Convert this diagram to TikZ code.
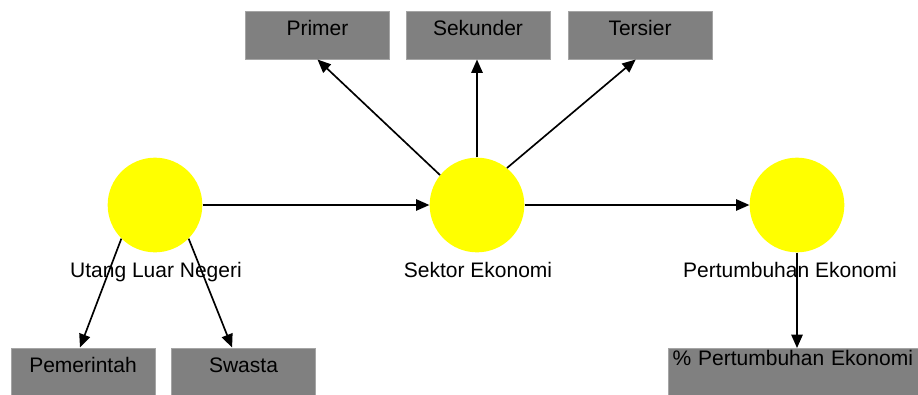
\documentclass[tikz,border=0pt]{standalone}
\usepackage{fontspec}
\setmainfont{Liberation Sans}
\usetikzlibrary{arrows.meta}
\definecolor{sunyellow}{RGB}{255,255,0}
\definecolor{boxgray}{RGB}{128,128,128}
\definecolor{edgegray}{RGB}{165,165,165}

\begin{document}
\begin{tikzpicture}[
  x=0.75pt, y=-0.75pt,
  sun/.style={circle, fill=sunyellow, minimum size=71pt, inner sep=0pt},
  caption/.style={inner sep=0pt, text height=12pt, text depth=3.5pt, font=\fontsize{15.75}{18}\selectfont},
  box/.style={draw=edgegray, fill=boxgray, line width=0.75pt, minimum width=108pt, minimum height=36pt, inner sep=0pt, text height=12pt, text depth=12pt, font=\fontsize{15.75}{18}\selectfont},
  arrow/.style={-{Triangle[length=10pt,width=8.5pt]}, line width=1.25pt}
]
  \useasboundingbox (0,0) rectangle (918,394);
  \clip (0,0) rectangle (918,394);

  % Circles
  \node[sun] (uln) at (155, 205) {};
  \node[sun] (sektor) at (477, 205) {};
  \node[sun] (tumbuh) at (797, 205) {};

  % Captions
  \node[caption] (ulnlabel) at (156, 272) {Utang Luar Negeri};
  \node[caption] (sektorlabel) at (478, 272) {Sektor Ekonomi};
  \node[caption] (tumbuhlabel) at (790, 272) {Pertumbuhan Ekonomi};

  % Sectors
  \node[box] (primer) at (317.5, 35) {Primer};
  \node[box] (sekunder) at (478, 35) {Sekunder};
  \node[box] (tersier) at (640, 35) {Tersier};

  % Debt holders
  \node[box] (pemerintah) at (83, 372) {Pemerintah};
  \node[box] (swasta) at (243.5, 372) {Swasta};

  % Growth rate
  \node[box, anchor=north west, minimum width=0pt, inner xsep=3pt, text width=195pt, align=left,
        text height=10pt, text depth=19.8pt] (persen) at (668, 348) {\% Pertumbuhan Ekonomi};

  % Arrows
  \draw[arrow] (uln) -- (sektor);
  \draw[arrow] (sektor) -- (tumbuh);
  \draw[arrow] (uln.225) -- (pemerintah.97);
  \draw[arrow] (uln.315) -- (swasta.115);
  \draw[arrow] (sektor.141) -- (primer.south);
  \draw[arrow] (sektor.north) -- (sektor.north |- sekunder.south);
  \draw[arrow] (sektor.51) -- (tersier.260);
  \draw[arrow] (tumbuh.south) -- (tumbuh.south |- persen.north);

\end{tikzpicture}
\end{document}
